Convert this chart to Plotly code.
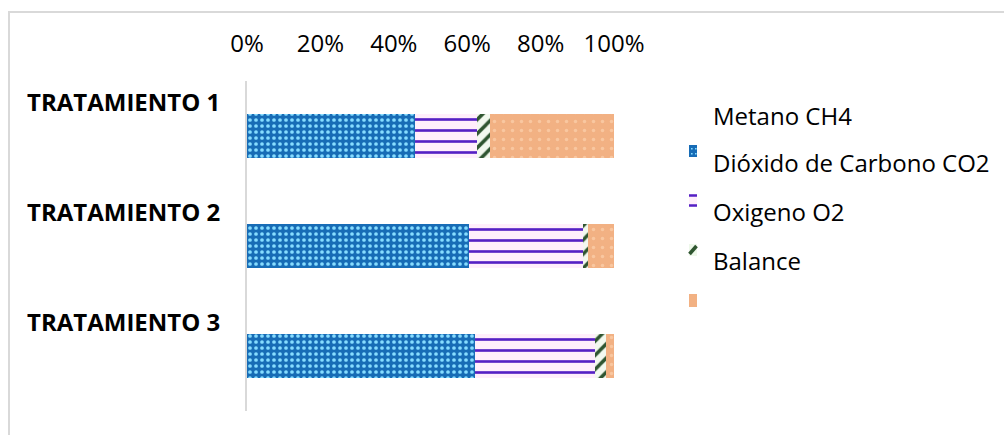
import plotly.graph_objects as go

# Composición del biogás por tratamiento (%)
tratamientos = ["TRATAMIENTO 1", "TRATAMIENTO 2", "TRATAMIENTO 3"]
metano = [45.7, 60.6, 62.1]
dioxido = [16.9, 31.0, 32.7]
oxigeno = [3.5, 1.4, 3.0]
balance = [33.9, 7.0, 2.2]

nombres = ["Metano CH4", "Dióxido de Carbono CO2", "Oxigeno O2", "Balance"]
ticks = [0, 20, 40, 60, 80, 100]

# plot-area geometry in pixels (used to place paper-referenced decorations)
W, H = 1004, 435
L, R, T, B = 247, 614, 81, 411


def px(x):
    return (x - L) / (R - L)


def py(y):
    return (B - y) / (B - T)


estilos = [
    dict(shape=".", fgcolor="#86dcff", bgcolor="#176cb6", size=6, solidity=0.3),
    dict(shape="-", fgcolor="#5520c4", bgcolor="#ffeefb", size=11, solidity=0.24),
    dict(shape="/", fgcolor="#2f5530", bgcolor="#f3f9ef", size=10, solidity=0.35),
    dict(shape=".", fgcolor="#f9c7a0", bgcolor="#f2b183", size=9, solidity=0.12),
]

fig = go.Figure()
for nombre, valores, est in zip(nombres, [metano, dioxido, oxigeno, balance], estilos):
    fig.add_trace(go.Bar(
        y=tratamientos, x=valores, name=nombre, orientation="h",
        width=0.4,
        marker=dict(color=est["bgcolor"], line=dict(width=0),
                    pattern=dict(shape=est["shape"], fgcolor=est["fgcolor"],
                                 bgcolor=est["bgcolor"], size=est["size"],
                                 solidity=est["solidity"], fillmode="replace")),
        showlegend=False,
    ))

shapes = []
annotations = []

# outer chart border
shapes.append(dict(type="rect", xref="paper", yref="paper",
                   x0=px(9), x1=px(W + 5), y0=py(H + 5), y1=py(12),
                   line=dict(color="#d9d9d9", width=2), fillcolor="rgba(0,0,0,0)",
                   layer="below"))

# category labels above each bar
for t in tratamientos:
    annotations.append(dict(x=px(25), xref="paper", y=t, yref="y", yshift=35,
                            yanchor="middle", text="<b>%s</b>" % t, showarrow=False,
                            xanchor="left",
                            font=dict(family="Open Sans", size=24, color="#000000")))

# legend: labels and swatches
label_y = [115, 162, 211, 260]
for nombre, ly in zip(nombres, label_y):
    annotations.append(dict(x=px(711), xref="paper", y=py(ly), yref="paper",
                            text=nombre, showarrow=False, xanchor="left",
                            yanchor="middle",
                            font=dict(family="Open Sans", size=24, color="#000000")))

sx0, sx1 = px(689), px(697)
# blue dotted swatch
shapes.append(dict(type="rect", xref="paper", yref="paper", x0=sx0, x1=sx1,
                   y0=py(157), y1=py(145), fillcolor="#176cb6", line=dict(width=0)))
for dy in (148, 153):
    for dx in (691, 695):
        shapes.append(dict(type="rect", xref="paper", yref="paper", x0=px(dx), x1=px(dx + 1.6),
                           y0=py(dy + 1.6), y1=py(dy), fillcolor="#86dcff", line=dict(width=0)))
# purple striped swatch
shapes.append(dict(type="rect", xref="paper", yref="paper", x0=sx0, x1=sx1,
                   y0=py(207), y1=py(194), fillcolor="#ffeefb", line=dict(width=0)))
for ly in (195.5, 205.5):
    shapes.append(dict(type="line", xref="paper", yref="paper", x0=sx0, x1=sx1,
                       y0=py(ly), y1=py(ly), line=dict(color="#5520c4", width=2.5)))
# green diagonal swatch
shapes.append(dict(type="rect", xref="paper", yref="paper", x0=sx0, x1=sx1,
                   y0=py(256), y1=py(244), fillcolor="#eef8ea", line=dict(width=0)))
shapes.append(dict(type="line", xref="paper", yref="paper", x0=px(689.5), x1=px(696.5),
                   y0=py(254), y1=py(246), line=dict(color="#2f5530", width=3.5)))
# orange swatch
shapes.append(dict(type="rect", xref="paper", yref="paper", x0=sx0, x1=sx1,
                   y0=py(307), y1=py(294), fillcolor="#f2b183", line=dict(width=0)))

fig.update_layout(
    barmode="stack",
    width=W, height=H,
    margin=dict(l=L, r=W - R, t=T, b=H - B, pad=0),
    plot_bgcolor="white", paper_bgcolor="white",
    font=dict(family="Open Sans", size=24, color="#000000"),
    shapes=shapes, annotations=annotations,
    xaxis=dict(range=[0, 100], side="top", tickvals=ticks,
               ticktext=["%d%%" % v for v in ticks],
               showgrid=False, zeroline=False, showline=False, ticks="",
               ticklabelstandoff=23, tickfont=dict(size=24)),
    yaxis=dict(autorange="reversed", showticklabels=False, showgrid=False,
               zeroline=False, showline=True, linecolor="#d9d9d9", linewidth=2,
               ticks=""),
)

fig.write_html("out.html")
